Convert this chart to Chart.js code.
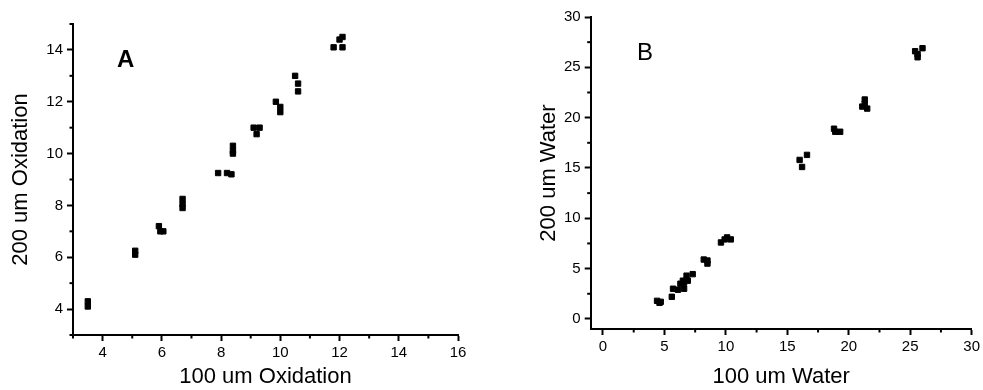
<!DOCTYPE html>
<html>
<head>
<meta charset="utf-8">
<script src="https://cdn.jsdelivr.net/npm/chart.js@4/dist/chart.umd.min.js"></script>
<style>
  html, body { margin: 0; padding: 0; background: #fff; }
  #wrap { position: relative; width: 983px; height: 390px; overflow: hidden; }
  .pane { position: absolute; top: 0; height: 390px; }
  #paneA { left: 0; width: 491px; }
  #paneB { left: 525px; width: 458px; }
</style>
</head>
<body>
<div id="wrap">
  <div class="pane" id="paneA"><canvas id="cA" width="491" height="390"></canvas></div>
  <div class="pane" id="paneB"><canvas id="cB" width="458" height="390"></canvas></div>
</div>
<script>
// ---- Panel A: oxidation ----
const oxid100 = [3.5, 3.5, 5.1, 5.1, 5.9, 5.95, 6.05, 6.7, 6.7, 6.7, 7.9, 8.2, 8.35, 8.4, 8.4, 8.4, 9.1, 9.3, 9.2, 9.85, 10.0, 10.0, 10.5, 10.6, 10.6, 11.8, 12.1, 12.0, 12.1];
const oxid200 = [4.3, 4.1, 6.25, 6.1, 7.2, 7.0, 7.0, 8.25, 8.05, 7.9, 9.25, 9.25, 9.2, 10.3, 10.1, 10.0, 11.0, 11.0, 10.75, 12.0, 11.8, 11.6, 13.0, 12.7, 12.4, 14.1, 14.1, 14.4, 14.5];
const oxidXTickLabels = ['4', '6', '8', '10', '12', '14', '16'];
const oxidYTickLabels = ['4', '6', '8', '10', '12', '14'];

// ---- Panel B: water ----
const water100 = [4.4, 4.6, 4.7, 5.6, 5.7, 6.1, 6.3, 6.5, 6.6, 6.6, 6.8, 6.9, 7.3, 8.2, 8.5, 8.5, 9.6, 9.9, 10.1, 10.4, 16.0, 16.2, 16.6, 18.8, 18.9, 19.3, 21.3, 21.1, 21.5, 21.3, 25.4, 25.6, 26.0, 25.6];
const water200 = [1.8, 1.6, 1.7, 2.2, 3.0, 2.9, 3.5, 3.8, 3.0, 3.6, 4.3, 3.8, 4.45, 5.9, 5.8, 5.5, 7.6, 7.9, 8.1, 7.9, 15.8, 15.1, 16.3, 18.9, 18.6, 18.6, 21.8, 21.1, 20.9, 21.4, 26.6, 26.0, 26.9, 26.3];
const waterXTickLabels = ['0', '5', '10', '15', '20', '25', '30'];
const waterYTickLabels = ['0', '5', '10', '15', '20', '25', '30'];

const FONT = '"Liberation Sans", Arial, Helvetica, sans-serif';

function pts(xs, ys) { return xs.map((x, i) => ({ x: x, y: ys[i] })); }

const minorTicks = {
  id: 'minorTicks',
  afterDraw(chart) {
    const ctx = chart.ctx;
    ctx.save();
    ctx.strokeStyle = '#000';
    ctx.lineWidth = 2;
    Object.values(chart.scales).forEach(s => {
      const labels = s.options._majorLabels;
      s.ticks.forEach(t => {
        if (labels.includes(String(t.value))) return;
        const p = s.getPixelForValue(t.value);
        ctx.beginPath();
        if (s.isHorizontal()) {
          ctx.moveTo(p, s.top);
          ctx.lineTo(p, s.top + 3.5);
        } else {
          ctx.moveTo(s.right, p);
          ctx.lineTo(s.right - 3.5, p);
        }
        ctx.stroke();
      });
    });
    ctx.restore();
  }
};

const panelLabel = {
  id: 'panelLabel',
  afterDraw(chart, args, opts) {
    const ctx = chart.ctx;
    ctx.save();
    ctx.fillStyle = '#000';
    ctx.font = opts.weight + ' 24px ' + FONT;
    ctx.textBaseline = 'alphabetic';
    ctx.textAlign = 'left';
    ctx.fillText(opts.text, opts.x, opts.y);
    ctx.restore();
  }
};

function axis(min, max, step, majorLabels, title, fixedSize, titlePad, horizontal) {
  return {
    type: 'linear',
    min: min, max: max,
    _majorLabels: majorLabels,
    border: { display: true, color: '#000', width: 2 },
    grid: {
      display: true,
      drawOnChartArea: false,
      drawTicks: true,
      tickLength: 6,
      tickWidth: 2,
      tickColor: (c) => (c.tick && majorLabels.includes(String(c.tick.value))) ? '#000' : 'rgba(0,0,0,0)'
    },
    ticks: {
      stepSize: step,
      includeBounds: false,
      autoSkip: false,
      maxRotation: 0,
      color: '#000',
      padding: horizontal ? 3 : 4,
      font: { family: FONT, size: 15 },
      callback: (v) => majorLabels.includes(String(v)) ? String(v) : ''
    },
    title: {
      display: true,
      text: title,
      color: '#000',
      font: { family: FONT, size: 22 },
      padding: horizontal ? { top: 0, bottom: 0 } : { top: titlePad, bottom: 0 }
    },
    afterFit: (s) => { if (horizontal) s.height = fixedSize; else s.width = fixedSize; }
  };
}

function makeChart(id, xs, ys, xAxis, yAxis, pad, label) {
  return new Chart(document.getElementById(id), {
    type: 'scatter',
    data: {
      datasets: [{
        data: pts(xs, ys),
        pointStyle: 'rect',
        pointRadius: 3.8,
        pointBorderWidth: 1,
        backgroundColor: '#000',
        borderColor: '#000'
      }]
    },
    options: {
      responsive: false,
      animation: false,
      devicePixelRatio: 1,
      layout: { padding: pad },
      scales: { x: xAxis, y: yAxis },
      plugins: {
        legend: { display: false },
        tooltip: { enabled: false },
        panelLabel: label
      }
    },
    plugins: [minorTicks, panelLabel]
  });
}

makeChart('cA', oxid100, oxid200,
  axis(3, 16, 1, oxidXTickLabels, '100 um Oxidation', 55, 0, true),
  axis(3, 15, 1, oxidYTickLabels, '200 um Oxidation', 73, 8, false),
  { top: 24, right: 33, left: 0, bottom: 0 },
  { text: 'A', weight: 'bold', x: 117, y: 67 });

makeChart('cB', water100, water200,
  axis(-1, 30, 2.5, waterXTickLabels, '100 um Water', 61, 0, true),
  axis(-1, 30, 2.5, waterYTickLabels, '200 um Water', 65.7, 11, false),
  { top: 17, right: 9.7, left: 0, bottom: 0 },
  { text: 'B', weight: 'normal', x: 112, y: 60 });
</script>
</body>
</html>
